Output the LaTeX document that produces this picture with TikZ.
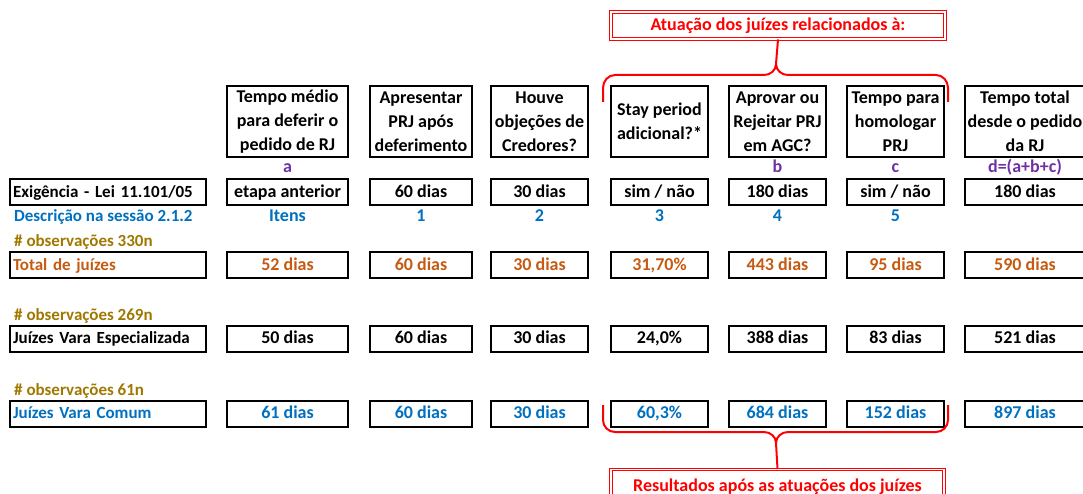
\documentclass[tikz,border=0pt]{standalone}
\usepackage{fontspec}
\setmainfont{Carlito}
\usepackage{xcolor}
\usepackage{tikz}

\definecolor{labpurple}{RGB}{112,48,160}
\definecolor{descblue}{RGB}{0,112,192}
\definecolor{obsgold}{RGB}{160,120,0}
\definecolor{totorange}{RGB}{197,90,17}

\begin{document}
\begin{tikzpicture}[x=1pt, y=-1pt,
	every node/.style={font=\fontsize{18}{24}\selectfont\bfseries, inner sep=0pt},
	oneline/.style={text height=12pt, text depth=2pt},
	cell/.style={draw=black, line width=2pt, minimum height=26pt, align=center},
	head/.style={cell, minimum height=71pt},
	rowlab/.style={cell, oneline, inner xsep=3pt, text width=190pt, align=left, font=\fontsize{17}{22}\selectfont\bfseries},
	plain/.style={oneline, anchor=west, font=\fontsize{17}{22}\selectfont\bfseries},
	redbox/.style={draw=red, line width=0.9pt, double=white, double distance=1.4pt, text=red},
	bracered/.style={draw=red, line width=2pt}]
	\useasboundingbox (0,0) rectangle (1083,494);
	\clip (0,0) rectangle (1083,494);
	% first column
	\node[rowlab] (e-lab) at (108,192.5) {Exigência - Lei 11.101/05};
	\node[plain, text=descblue] (d-lab) at (14,217) {Descrição na sessão 2.1.2};
	\node[plain, text=obsgold] (o-330) at (14,242) {\# observações 330n};
	\node[rowlab, text=totorange] (t-lab) at (108,265) {Total de juízes};
	\node[plain, text=obsgold] (o-269) at (14,315) {\# observações 269n};
	\node[rowlab] (s-lab) at (108,338.5) {Juízes Vara Especializada};
	\node[plain, text=obsgold] (o-61) at (14,390) {\# observações 61n};
	\node[rowlab, text=descblue] (c-lab) at (108,413.5) {Juízes Vara Comum};
	% the columns
	\foreach \n/\x/\w/\vh/\vl/\ve/\vd/\vt/\vs/\vc in {
		a/287.5/121/{Tempo médio\\para deferir o\\pedido de RJ}/a/{etapa anterior}/Itens/{52 dias}/{50 dias}/{61 dias},
		1/421/102/{Apresentar\\PRJ após\\deferimento}/{}/{60 dias}/1/{60 dias}/{60 dias}/{60 dias},
		2/539.5/97/{Houve\\objeções de\\Credores?}/{}/{30 dias}/2/{30 dias}/{30 dias}/{30 dias},
		3/659.5/97/{Stay period\\adicional?*}/{}/{sim / não}/3/{31,70\%}/{24,0\%}/{60,3\%},
		4/777.5/97/{Aprovar ou\\Rejeitar PRJ\\em AGC?}/b/{180 dias}/4/{443 dias}/{388 dias}/{684 dias},
		5/895.5/97/{Tempo para\\homologar\\PRJ}/c/{sim / não}/5/{95 dias}/{83 dias}/{152 dias},
		d/1025/120/{Tempo total\\desde o pedido\\da RJ}/{d=(a+b+c)}/{180 dias}/{}/{590 dias}/{521 dias}/{897 dias}}
	{
		\node[head, minimum width=\w pt] (h-\n) at (\x,121.5) {\vh};
		\node[oneline, text=labpurple] (l-\n) at (\x,168) {\vl};
		\node[cell, oneline, minimum width=\w pt] (e-\n) at (\x,192.5) {\ve};
		\node[oneline, text=descblue] (d-\n) at (\x,217) {\vd};
		\node[cell, oneline, minimum width=\w pt, text=totorange] (t-\n) at (\x,265) {\vt};
		\node[cell, oneline, minimum width=\w pt] (s-\n) at (\x,338.5) {\vs};
		\node[cell, oneline, minimum width=\w pt, text=descblue] (c-\n) at (\x,413.5) {\vc};
	}
	% red notes and braces
	\node[redbox, minimum width=334pt, minimum height=27pt] (atuacao) at (778,25.5) {Atuação dos juízes relacionados à:};
	\node[redbox, minimum width=333pt, minimum height=34pt, anchor=north] (result) at (777.5,469) {Resultados após as atuações dos juízes};
	\coordinate (ttip) at (776,64);
	\coordinate (btip) at (776,443);
	\draw[bracered] (atuacao.south) -- (ttip);
	\draw[bracered] (603,102) -- (603,88) to[out=90,in=180] (615,75) -- (764,75) to[out=0,in=-90] (ttip)
		to[out=-90,in=180] (788,75) -- (936,75) to[out=0,in=90] (948,88) -- (948,102);
	\draw[bracered] (603,405) -- (603,420) to[out=-90,in=180] (615,432) -- (764,432) to[out=0,in=90] (btip)
		to[out=90,in=180] (788,432) -- (936,432) to[out=0,in=-90] (948,420) -- (948,405);
	\draw[bracered] (btip) -- (result.north);
\end{tikzpicture}
\end{document}
